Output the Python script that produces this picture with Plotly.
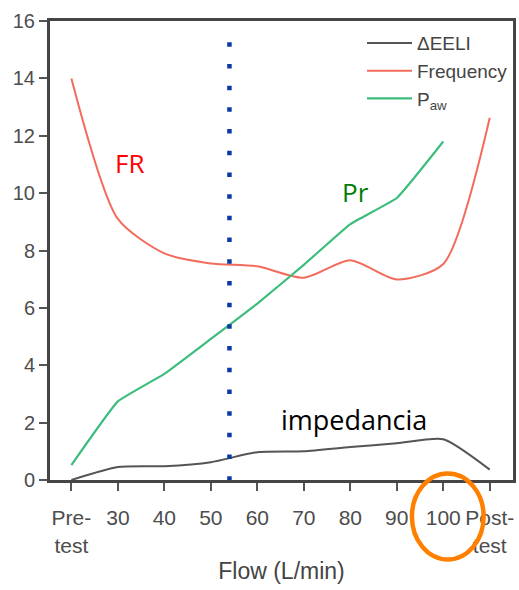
import plotly.graph_objects as go

# Flow steps on the x axis (plotted at positions 0..9)
flow_labels = ["Pre-<br>test", "30", "40", "50", "60", "70", "80", "90", "100", "Post-<br>test"]
flow_pos = list(range(len(flow_labels)))

# Series values per flow step
eeli = [0.0, 0.45, 0.48, 0.62, 0.97, 1.0, 1.15, 1.28, 1.42, 0.36]
frequency = [14.0, 9.1, 7.9, 7.55, 7.45, 7.05, 7.66, 6.99, 7.53, 12.63]
paw = [0.52, 2.74, 3.7, 4.92, 6.15, 7.5, 8.92, 9.83, 11.8]

# Reference flow marker (between 50 and 60 L/min)
marker_pos = 3.4
marker_top = 15.26

sans = "Liberation Sans, Arial, sans-serif"
label_font = "Open Sans, Noto Sans, sans-serif"

fig = go.Figure()

fig.add_trace(go.Scatter(
    x=flow_pos, y=eeli, mode="lines", name="\u0394EELI",
    line=dict(color="#555555", width=2, shape="spline", smoothing=0.6),
))
fig.add_trace(go.Scatter(
    x=flow_pos, y=frequency, mode="lines", name="Frequency",
    line=dict(color="#f26b5b", width=2, shape="spline", smoothing=0.7),
))
fig.add_trace(go.Scatter(
    x=flow_pos[:len(paw)], y=paw, mode="lines", name="P<sub>aw</sub>",
    line=dict(color="#3dbd7d", width=2.2, shape="spline", smoothing=0.3),
))
fig.add_trace(go.Scatter(
    x=[marker_pos, marker_pos], y=[marker_top, 0], mode="lines", showlegend=False,
    line=dict(color="#0a3aa8", width=4.5, dash="4.5px,17.2px"),
    hoverinfo="skip",
))

annotations = [
    dict(x=1.26, y=11.05, text="FR", font=dict(color="#ff0000", size=26, family=label_font)),
    dict(x=6.12, y=10.05, text="Pr", font=dict(color="#008000", size=26, family=label_font)),
    dict(x=6.08, y=2.1, text="impedancia", font=dict(color="#000000", size=27, family=label_font)),
]
for a in annotations:
    a.update(xref="x", yref="y", showarrow=False, xanchor="center", yanchor="middle")

fig.update_layout(
    width=519, height=590,
    margin=dict(l=50, r=3, t=21, b=110),
    paper_bgcolor="white", plot_bgcolor="white",
    font=dict(family=sans, color="#4d4d4d"),
    showlegend=True,
    legend=dict(
        x=1.0, y=0.993, xanchor="right", yanchor="top",
        bgcolor="rgba(0,0,0,0)", borderwidth=0,
        font=dict(size=19, color="#444444", family=sans),
        tracegroupgap=0, itemwidth=45,
    ),
    annotations=annotations,
    shapes=[dict(
        type="circle", xref="paper", yref="paper",
        x0=0.7817, x1=0.9366, y0=-0.1732, y1=0.0142,
        line=dict(color="#ff8000", width=4.5),
    )],
)

fig.update_xaxes(
    range=[-0.46, 9.5], tickmode="array", tickvals=flow_pos, ticktext=flow_labels,
    tickangle=0, ticklabelstandoff=9,
    showgrid=False, zeroline=False,
    showline=True, mirror=True, linecolor="#454545", linewidth=3,
    ticks="outside", ticklen=8, tickwidth=1.5, tickcolor="#555555",
    tickfont=dict(size=21, color="#4d4d4d", family=sans),
    title=dict(text="Flow (L/min)", font=dict(size=23, color="#444444", family=sans), standoff=8),
)
fig.update_yaxes(
    range=[0, 16], tickmode="linear", tick0=0, dtick=2,
    showgrid=False, zeroline=False,
    showline=True, mirror=True, linecolor="#454545", linewidth=3,
    ticks="outside", ticklen=8, tickwidth=1.5, tickcolor="#555555",
    tickfont=dict(size=20, color="#4d4d4d", family=sans),
)

fig.write_html("out.html")
